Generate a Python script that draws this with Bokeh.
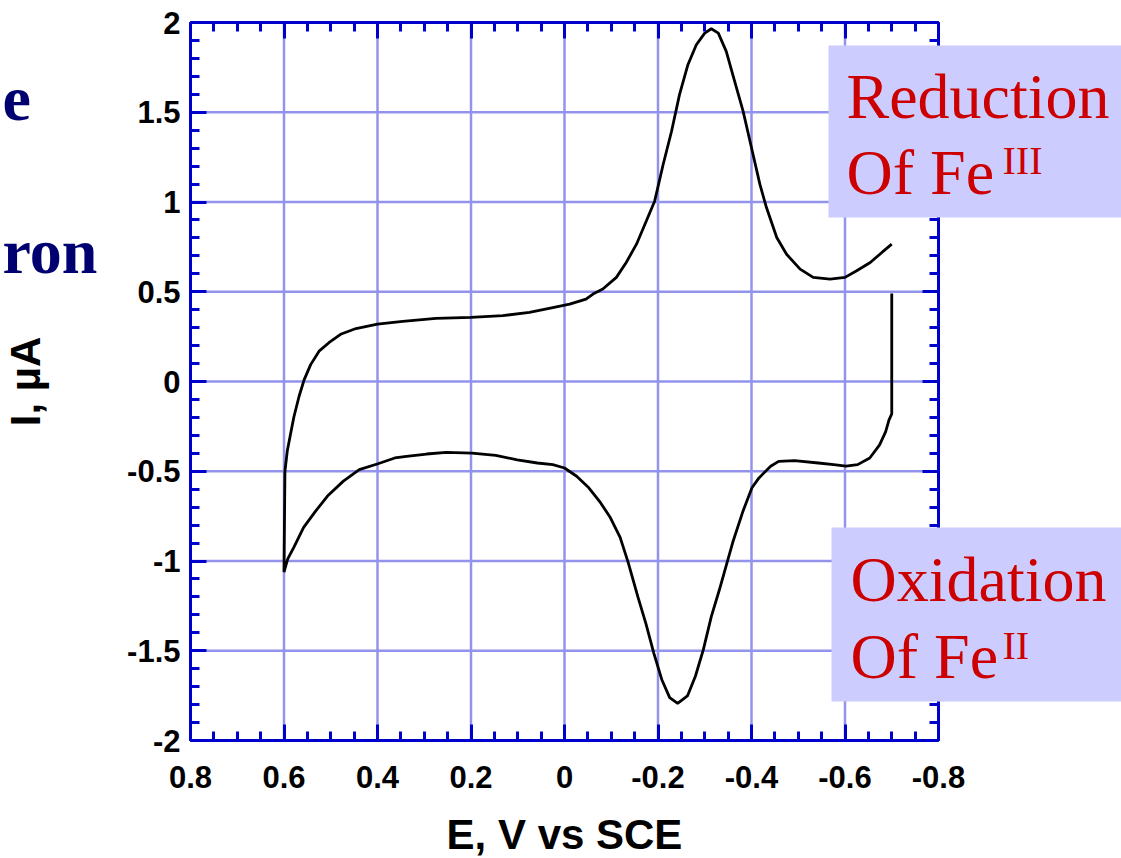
from bokeh.plotting import figure
from bokeh.models import (Range1d, LinearAxis, FixedTicker, Label, BoxAnnotation,
                          CustomJSTickFormatter)
from bokeh.embed import file_html
from bokeh.resources import INLINE

# ---------------- data ----------------
x_ticks = [0.8, 0.6, 0.4, 0.2, 0.0, -0.2, -0.4, -0.6, -0.8]
x_tick_labels = ["0.8", "0.6", "0.4", "0.2", "0", "-0.2", "-0.4", "-0.6", "-0.8"]
x_minor = [0.8 - 0.05 * i for i in range(33)]
y_ticks = [-2.0, -1.5, -1.0, -0.5, 0.0, 0.5, 1.0, 1.5, 2.0]
y_tick_labels = ["-2", "-1.5", "-1", "-0.5", "0", "0.5", "1", "1.5", "2"]
y_minor = [-2.0 + 0.1 * i for i in range(41)]

# potential (V vs SCE) and current (uA) of the voltammogram, in scan order
E_volts = [
    -0.700, -0.700, -0.694, -0.687, -0.674, -0.653, -0.627, -0.602, -0.576, -0.543,
    -0.492, -0.458, -0.441, -0.416, -0.401, -0.382, -0.361, -0.348, -0.331, -0.314,
    -0.297, -0.280, -0.263, -0.242, -0.225, -0.208, -0.191, -0.174, -0.157, -0.136,
    -0.119, -0.098, -0.077, -0.052, -0.026, 0.000, 0.025, 0.058, 0.101, 0.147,
    0.198, 0.253, 0.295, 0.338, 0.363, 0.399, 0.439, 0.473, 0.507, 0.532,
    0.558, 0.579, 0.592, 0.600, 0.598, 0.593, 0.586, 0.579, 0.568, 0.557,
    0.543, 0.525, 0.504, 0.479, 0.446, 0.400, 0.346, 0.275, 0.200, 0.132,
    0.075, 0.025, -0.011, -0.046, -0.061, -0.082, -0.111, -0.132, -0.154, -0.175,
    -0.193, -0.211, -0.229, -0.246, -0.264, -0.282, -0.300, -0.314, -0.329, -0.346,
    -0.364, -0.382, -0.400, -0.418, -0.432, -0.454, -0.475, -0.504, -0.532, -0.568,
    -0.600, -0.625, -0.654, -0.679, -0.700,
]
I_microamps = [
    0.490, -0.180, -0.215, -0.279, -0.353, -0.426, -0.463, -0.472, -0.463, -0.454,
    -0.441, -0.445, -0.472, -0.537, -0.592, -0.721, -0.887, -1.006, -1.163, -1.310,
    -1.494, -1.642, -1.752, -1.793, -1.761, -1.660, -1.513, -1.347, -1.200, -1.006,
    -0.868, -0.758, -0.675, -0.592, -0.528, -0.482, -0.463, -0.454, -0.436, -0.412,
    -0.399, -0.395, -0.404, -0.417, -0.426, -0.458, -0.491, -0.555, -0.638, -0.721,
    -0.813, -0.924, -0.988, -1.062, -0.500, -0.387, -0.293, -0.199, -0.085, 0.009,
    0.094, 0.169, 0.216, 0.263, 0.295, 0.320, 0.335, 0.352, 0.357, 0.367,
    0.385, 0.412, 0.431, 0.459, 0.487, 0.515, 0.580, 0.663, 0.765, 0.894,
    1.006, 1.209, 1.394, 1.598, 1.765, 1.876, 1.941, 1.965, 1.941, 1.839,
    1.672, 1.506, 1.302, 1.098, 0.969, 0.802, 0.709, 0.626, 0.580, 0.570,
    0.580, 0.617, 0.663, 0.719, 0.765,
]

x_label = "E, V vs SCE"
y_label = "I, µA"

# ---------------- layout helpers ----------------
W, H = 1121, 858
FL, FR, FT, FB = 190, 938, 22, 740   # data-box edges in pixels
XMAX, XMIN, YMIN, YMAX = x_ticks[0], x_ticks[-1], y_ticks[0], y_ticks[-1]


def px_x(px):
    return XMAX - (px - FL) / (FR - FL) * (XMAX - XMIN)


def px_y(py):
    return YMAX - (py - FT) / (FB - FT) * (YMAX - YMIN)


BLUE = "#0000cc"
GRID = "#9393ee"

# the frame covers the whole canvas so that the side boxes and texts are not clipped
p = figure(width=W, height=H,
           x_range=Range1d(px_x(0), px_x(W)), y_range=Range1d(px_y(H), px_y(0)),
           output_backend="svg", toolbar_location=None,
           min_border_left=0, min_border_right=0, min_border_top=0, min_border_bottom=0)
p.background_fill_color = "white"
p.border_fill_color = "white"
p.outline_line_color = None
p.xgrid.visible = False
p.ygrid.visible = False

xt = FixedTicker(ticks=x_ticks, minor_ticks=x_minor)
yt = FixedTicker(ticks=y_ticks, minor_ticks=y_minor)

blank = CustomJSTickFormatter(code="return ''")


def style_axis(ax, ticker, loc, bounds, labels=None):
    ax.ticker = ticker
    ax.fixed_location = loc
    ax.bounds = bounds
    ax.axis_line_color = BLUE
    ax.axis_line_width = 3
    ax.major_tick_line_color = BLUE
    ax.major_tick_line_width = 3
    ax.minor_tick_line_color = BLUE
    ax.minor_tick_line_width = 3
    ax.major_tick_in = 16
    ax.major_tick_out = 0
    ax.minor_tick_in = 9
    ax.minor_tick_out = 0
    if labels is None:
        ax.formatter = blank
        ax.major_label_text_font_size = "0px"
        ax.major_label_standoff = 0
    else:
        ax.major_label_overrides = labels
        ax.major_label_text_font = "Liberation Sans"
        ax.major_label_text_font_style = "bold"
        ax.major_label_text_font_size = "31px"
        ax.major_label_text_color = "black"
        ax.axis_label_text_font = "Liberation Sans"
        ax.axis_label_text_font_style = "bold"
        ax.axis_label_text_font_size = "42px"
        ax.axis_label_text_color = "black"


# grid lines at the major ticks, limited to the data box
p.segment(x0=x_ticks, y0=[YMIN] * len(x_ticks), x1=x_ticks, y1=[YMAX] * len(x_ticks),
          line_color=GRID, line_width=2.5, level="underlay")
p.segment(x0=[XMAX] * len(y_ticks), y0=y_ticks, x1=[XMIN] * len(y_ticks), y1=y_ticks,
          line_color=GRID, line_width=2.5, level="underlay")

xa = p.xaxis[0]
ya = p.yaxis[0]
style_axis(xa, xt, YMIN, (XMIN, XMAX), {v: s for v, s in zip(x_ticks, x_tick_labels)})
style_axis(ya, yt, XMAX, (YMIN, YMAX), {v: s for v, s in zip(y_ticks, y_tick_labels)})
xa.axis_label = x_label
ya.axis_label = y_label
xa.major_label_standoff = 25
xa.axis_label_standoff = 20
ya.major_label_standoff = 10
ya.axis_label_standoff = 75

top = LinearAxis()
right = LinearAxis()
style_axis(top, xt, YMAX, (XMIN, XMAX))
style_axis(right, yt, XMIN, (YMIN, YMAX))
p.add_layout(top, "above")
p.add_layout(right, "right")

p.line(E_volts, I_microamps, line_color="black", line_width=2.8)

# ---------------- annotation boxes ----------------
BOXC = "#ccccff"
RED = "#cc0000"
p.add_layout(BoxAnnotation(left=px_x(828), right=px_x(W), top=px_y(45), bottom=px_y(217),
                           fill_color=BOXC, fill_alpha=1, line_color=None))
p.add_layout(BoxAnnotation(left=px_x(831), right=px_x(W), top=px_y(527), bottom=px_y(701),
                           fill_color=BOXC, fill_alpha=1, line_color=None))


def lab(text, px, py, size, color, font="Liberation Serif", style="normal", align="left"):
    p.add_layout(Label(x=px_x(px), y=px_y(py), text=text, text_font=font,
                       text_font_size=size, text_color=color, text_font_style=style,
                       text_align=align, text_baseline="alphabetic"))


lab("Reduction", 846, 96, "64px", RED)
lab("Of Fe", 846, 172, "64px", RED)
lab("III", 1002, 160, "40px", RED)
lab("Oxidation", 850, 579, "64px", RED)
lab("Of Fe", 850, 656, "64px", RED)
lab("II", 1002, 645, "40px", RED)

NAVY = "#000070"
lab("e", 2, 98, "64px", NAVY, style="bold")
lab("ron", 2, 251, "64px", NAVY, style="bold")

open("out.html", "w").write(file_html(p, INLINE))
